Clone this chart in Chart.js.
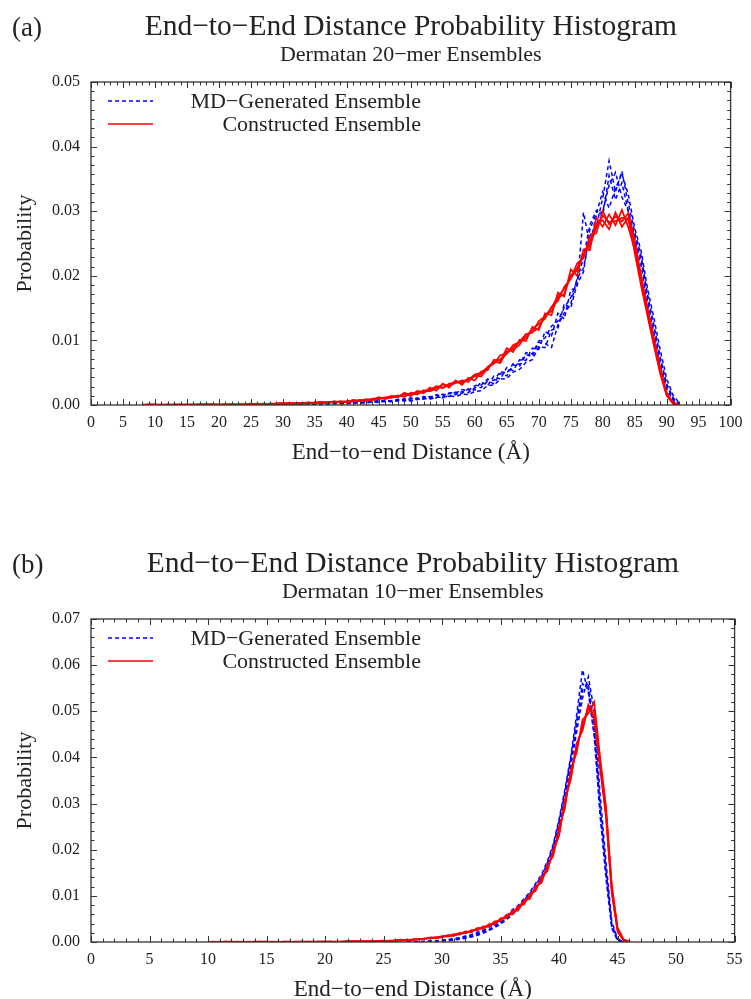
<!DOCTYPE html>
<html><head><meta charset="utf-8">
<script src="https://cdn.jsdelivr.net/npm/chart.js@4.4.0/dist/chart.umd.min.js"></script>
<style>
html,body{margin:0;padding:0;background:#fff;overflow:hidden;width:751px;height:999px;}
canvas{position:absolute;left:0;}
#cA{top:0}
#cB{top:537px}
</style></head><body>
<canvas id="cA" width="751" height="500"></canvas>
<canvas id="cB" width="751" height="500"></canvas>
<script>
// ---------- Panel (a): Dermatan 20-mer ----------
const distA = [8,9,10,11,12,13,14,15,16,17,18,19,20,21,22,23,24,25,26,27,28,29,30,31,32,33,34,35,36,37,38,39,40,41,42,43,44,45,46,47,48,49,50,51,52,53,54,55,56,57,58,59,60,61,62,63,64,65,66,67,68,69,70,71,72,73,74,75,76,77,78,79,80,81,82,83,84,85,86,87,88,89,90,91,92];
const conA1 = [0.0000,0.0000,0.0000,0.0000,0.0001,0.0000,0.0000,0.0001,0.0000,0.0001,
  0.0001,0.0000,0.0001,0.0001,0.0001,0.0000,0.0001,0.0001,0.0001,0.0002,
  0.0001,0.0002,0.0002,0.0002,0.0003,0.0002,0.0003,0.0003,0.0004,0.0003,
  0.0005,0.0004,0.0006,0.0005,0.0008,0.0007,0.0009,0.0011,0.0010,0.0013,
  0.0012,0.0019,0.0015,0.0021,0.0018,0.0027,0.0022,0.0033,0.0027,0.0038,
  0.0031,0.0042,0.0038,0.0052,0.0054,0.0070,0.0068,0.0088,0.0082,0.0101,
  0.0099,0.0121,0.0116,0.0142,0.0139,0.0174,0.0168,0.0210,0.0200,0.0241,
  0.0240,0.0290,0.0276,0.0295,0.0278,0.0302,0.0275,0.0241,0.0192,0.0143,
  0.0097,0.0052,0.0016,0.0003,0.0000];
const conA2 = [0.0000,0.0001,0.0000,0.0001,0.0000,0.0001,0.0001,0.0000,0.0001,0.0000,
  0.0001,0.0001,0.0001,0.0000,0.0001,0.0001,0.0001,0.0002,0.0001,0.0001,
  0.0002,0.0002,0.0003,0.0002,0.0002,0.0003,0.0004,0.0003,0.0005,0.0004,
  0.0004,0.0006,0.0005,0.0007,0.0006,0.0009,0.0008,0.0010,0.0012,0.0011,
  0.0014,0.0013,0.0019,0.0018,0.0021,0.0024,0.0028,0.0026,0.0033,0.0034,
  0.0037,0.0039,0.0047,0.0050,0.0058,0.0064,0.0077,0.0080,0.0089,0.0098,
  0.0110,0.0112,0.0130,0.0137,0.0151,0.0168,0.0180,0.0196,0.0219,0.0228,
  0.0262,0.0266,0.0300,0.0280,0.0292,0.0284,0.0297,0.0255,0.0201,0.0150,
  0.0104,0.0057,0.0019,0.0004,0.0000];
const conA3 = [0.0001,0.0000,0.0001,0.0000,0.0000,0.0001,0.0000,0.0001,0.0001,0.0001,
  0.0000,0.0001,0.0000,0.0001,0.0001,0.0001,0.0000,0.0001,0.0002,0.0001,
  0.0002,0.0001,0.0002,0.0003,0.0002,0.0003,0.0002,0.0004,0.0003,0.0005,
  0.0004,0.0005,0.0004,0.0006,0.0007,0.0006,0.0010,0.0009,0.0011,0.0014,
  0.0013,0.0017,0.0014,0.0022,0.0020,0.0023,0.0029,0.0027,0.0031,0.0037,
  0.0034,0.0040,0.0044,0.0048,0.0059,0.0066,0.0071,0.0079,0.0093,0.0097,
  0.0104,0.0118,0.0125,0.0134,0.0152,0.0161,0.0183,0.0195,0.0212,0.0230,
  0.0253,0.0280,0.0286,0.0272,0.0298,0.0276,0.0290,0.0236,0.0185,0.0138,
  0.0092,0.0048,0.0014,0.0002,0.0000];
const conA4 = [0.0000,0.0001,0.0001,0.0000,0.0001,0.0000,0.0001,0.0000,0.0000,0.0001,
  0.0001,0.0001,0.0000,0.0001,0.0000,0.0001,0.0001,0.0002,0.0001,0.0002,
  0.0001,0.0002,0.0003,0.0002,0.0003,0.0003,0.0002,0.0004,0.0004,0.0003,
  0.0006,0.0004,0.0005,0.0008,0.0006,0.0008,0.0007,0.0012,0.0009,0.0012,
  0.0015,0.0013,0.0018,0.0016,0.0023,0.0021,0.0026,0.0032,0.0030,0.0034,
  0.0038,0.0036,0.0046,0.0044,0.0057,0.0067,0.0065,0.0083,0.0086,0.0093,
  0.0109,0.0113,0.0119,0.0140,0.0145,0.0166,0.0172,0.0201,0.0208,0.0233,
  0.0247,0.0275,0.0293,0.0283,0.0285,0.0290,0.0288,0.0248,0.0197,0.0147,
  0.0100,0.0055,0.0017,0.0003,0.0000];
const mdA1 = [null,null,null,null,null,null,null,null,null,null,null,null,null,null,null,null,null,null,null,null,
  0.0000,0.0001,0.0000,0.0001,0.0001,0.0002,0.0001,0.0002,0.0002,0.0003,
  0.0002,0.0003,0.0004,0.0003,0.0004,0.0005,0.0004,0.0006,0.0005,0.0007,
  0.0008,0.0006,0.0010,0.0008,0.0012,0.0010,0.0015,0.0011,0.0018,0.0016,
  0.0021,0.0019,0.0027,0.0027,0.0037,0.0033,0.0049,0.0045,0.0062,0.0060,
  0.0078,0.0075,0.0097,0.0095,0.0089,0.0124,0.0142,0.0156,0.0196,0.0212,
  0.0262,0.0276,0.0320,0.0378,0.0330,0.0362,0.0312,0.0268,0.0231,0.0172,
  0.0124,0.0074,0.0033,0.0011,0.0002];
const mdA2 = [null,null,null,null,null,null,null,null,null,null,null,null,null,null,null,null,null,null,null,null,
  0.0001,0.0000,0.0001,0.0001,0.0000,0.0001,0.0002,0.0001,0.0003,0.0002,
  0.0003,0.0002,0.0003,0.0004,0.0003,0.0004,0.0006,0.0005,0.0007,0.0006,
  0.0006,0.0010,0.0007,0.0011,0.0009,0.0013,0.0011,0.0017,0.0013,0.0020,
  0.0018,0.0025,0.0023,0.0036,0.0030,0.0045,0.0040,0.0058,0.0053,0.0070,
  0.0069,0.0088,0.0086,0.0114,0.0107,0.0142,0.0133,0.0178,0.0182,0.0298,
  0.0248,0.0293,0.0300,0.0340,0.0360,0.0322,0.0300,0.0259,0.0216,0.0158,
  0.0112,0.0063,0.0025,0.0007,0.0001];
const mdA3 = [null,null,null,null,null,null,null,null,null,null,null,null,null,null,null,null,null,null,null,null,
  0.0000,0.0000,0.0001,0.0000,0.0001,0.0001,0.0001,0.0002,0.0001,0.0002,
  0.0003,0.0002,0.0002,0.0003,0.0004,0.0003,0.0005,0.0004,0.0006,0.0005,
  0.0007,0.0008,0.0006,0.0009,0.0010,0.0009,0.0012,0.0012,0.0014,0.0013,
  0.0017,0.0016,0.0021,0.0022,0.0030,0.0031,0.0040,0.0041,0.0051,0.0055,
  0.0066,0.0070,0.0090,0.0089,0.0116,0.0119,0.0157,0.0150,0.0187,0.0206,
  0.0272,0.0296,0.0330,0.0305,0.0335,0.0358,0.0326,0.0274,0.0239,0.0181,
  0.0135,0.0085,0.0041,0.0015,0.0003];
const mdA4 = [null,null,null,null,null,null,null,null,null,null,null,null,null,null,null,null,null,null,null,null,
  0.0001,0.0000,0.0000,0.0001,0.0001,0.0001,0.0002,0.0001,0.0002,0.0002,
  0.0002,0.0004,0.0003,0.0004,0.0003,0.0005,0.0005,0.0007,0.0006,0.0006,
  0.0009,0.0007,0.0011,0.0009,0.0013,0.0012,0.0016,0.0014,0.0019,0.0018,
  0.0024,0.0022,0.0030,0.0031,0.0040,0.0038,0.0052,0.0049,0.0064,0.0063,
  0.0081,0.0079,0.0099,0.0104,0.0122,0.0130,0.0151,0.0166,0.0193,0.0228,
  0.0279,0.0301,0.0292,0.0355,0.0318,0.0344,0.0300,0.0262,0.0225,0.0165,
  0.0118,0.0070,0.0030,0.0009,0.0001];

// ---------- Panel (b): Dermatan 10-mer ----------
const distB = [10,10.5,11,11.5,12,12.5,13,13.5,14,14.5,15,15.5,16,16.5,17,17.5,18,18.5,19,19.5,
  20,20.5,21,21.5,22,22.5,23,23.5,24,24.5,25,25.5,26,26.5,27,27.5,28,28.5,29,29.5,
  30,30.5,31,31.5,32,32.5,33,33.5,34,34.5,35,35.5,36,36.5,37,37.5,38,38.5,39,39.5,
  40,40.5,41,41.5,42,42.5,43,43.5,44,44.5,45,45.5,46];
const conB1 = [0.0000,0.0000,0.0001,0.0000,0.0000,0.0001,0.0000,0.0000,0.0001,0.0000,
  0.0000,0.0001,0.0000,0.0001,0.0000,0.0001,0.0000,0.0001,0.0001,0.0000,
  0.0001,0.0001,0.0000,0.0001,0.0001,0.0001,0.0002,0.0001,0.0001,0.0002,
  0.0002,0.0003,0.0002,0.0004,0.0005,0.0004,0.0006,0.0007,0.0009,0.0008,
  0.0011,0.0014,0.0013,0.0020,0.0019,0.0026,0.0025,0.0034,0.0033,0.0045,
  0.0045,0.0059,0.0060,0.0078,0.0081,0.0104,0.0111,0.0141,0.0153,0.0201,
  0.0231,0.0309,0.0352,0.0430,0.0458,0.0511,0.0485,0.0390,0.0280,0.0112,
  0.0026,0.0004,0.0000];
const conB2 = [0.0001,0.0000,0.0000,0.0001,0.0000,0.0000,0.0001,0.0000,0.0000,0.0001,
  0.0001,0.0000,0.0001,0.0000,0.0001,0.0000,0.0001,0.0001,0.0000,0.0001,
  0.0001,0.0000,0.0001,0.0001,0.0002,0.0001,0.0001,0.0002,0.0002,0.0001,
  0.0003,0.0002,0.0004,0.0003,0.0004,0.0006,0.0005,0.0008,0.0008,0.0010,
  0.0012,0.0012,0.0017,0.0016,0.0023,0.0021,0.0030,0.0028,0.0039,0.0038,
  0.0052,0.0051,0.0068,0.0068,0.0091,0.0093,0.0122,0.0128,0.0167,0.0186,
  0.0250,0.0289,0.0375,0.0410,0.0482,0.0495,0.0520,0.0402,0.0296,0.0125,
  0.0031,0.0006,0.0001];
const conB3 = [0.0000,0.0001,0.0000,0.0000,0.0001,0.0000,0.0000,0.0001,0.0000,0.0000,
  0.0001,0.0000,0.0000,0.0001,0.0001,0.0000,0.0001,0.0000,0.0001,0.0001,
  0.0000,0.0001,0.0001,0.0000,0.0001,0.0002,0.0001,0.0001,0.0002,0.0002,
  0.0002,0.0002,0.0003,0.0004,0.0004,0.0005,0.0007,0.0006,0.0010,0.0009,
  0.0012,0.0012,0.0015,0.0018,0.0019,0.0024,0.0028,0.0031,0.0036,0.0041,
  0.0049,0.0055,0.0064,0.0073,0.0086,0.0099,0.0116,0.0135,0.0161,0.0194,
  0.0232,0.0308,0.0356,0.0429,0.0462,0.0514,0.0486,0.0376,0.0273,0.0106,
  0.0022,0.0003,0.0000];
const conB4 = [0.0000,0.0000,0.0000,0.0001,0.0001,0.0000,0.0000,0.0000,0.0001,0.0001,
  0.0000,0.0000,0.0001,0.0000,0.0000,0.0001,0.0001,0.0000,0.0000,0.0001,
  0.0001,0.0001,0.0000,0.0001,0.0002,0.0001,0.0002,0.0001,0.0002,0.0002,
  0.0003,0.0002,0.0003,0.0005,0.0003,0.0005,0.0006,0.0007,0.0009,0.0010,
  0.0010,0.0015,0.0014,0.0018,0.0022,0.0022,0.0029,0.0031,0.0035,0.0044,
  0.0046,0.0057,0.0063,0.0072,0.0088,0.0096,0.0118,0.0134,0.0160,0.0196,
  0.0240,0.0300,0.0366,0.0420,0.0470,0.0505,0.0500,0.0392,0.0288,0.0118,
  0.0028,0.0005,0.0000];
const mdB1 = [null,null,null,null,null,null,null,null,null,null,null,null,null,null,null,null,null,
  null,null,null,null,null,null,null,null,null,null,null,null,null,null,null,null,null,
  0.0000,0.0001,0.0000,0.0001,0.0001,0.0002,
  0.0003,0.0005,0.0005,0.0009,0.0009,0.0015,0.0016,0.0024,0.0026,0.0037,
  0.0041,0.0055,0.0061,0.0077,0.0085,0.0105,0.0118,0.0142,0.0165,0.0208,
  0.0258,0.0318,0.0394,0.0468,0.0545,0.0562,0.0470,0.0296,0.0158,0.0038,
  0.0005,0.0000,null];
const mdB2 = [null,null,null,null,null,null,null,null,null,null,null,null,null,null,null,null,null,
  null,null,null,null,null,null,null,null,null,null,null,null,null,null,null,null,null,
  0.0001,0.0000,0.0001,0.0001,0.0002,0.0002,
  0.0004,0.0005,0.0008,0.0009,0.0013,0.0016,0.0021,0.0025,0.0032,0.0039,
  0.0048,0.0056,0.0070,0.0079,0.0094,0.0108,0.0127,0.0146,0.0175,0.0212,
  0.0266,0.0331,0.0402,0.0492,0.0590,0.0541,0.0445,0.0275,0.0140,0.0030,
  0.0003,0.0000,null];
const mdB3 = [null,null,null,null,null,null,null,null,null,null,null,null,null,null,null,null,null,
  null,null,null,null,null,null,null,null,null,null,null,null,null,null,null,null,null,
  0.0000,0.0000,0.0001,0.0000,0.0001,0.0001,
  0.0002,0.0003,0.0004,0.0006,0.0008,0.0011,0.0014,0.0019,0.0025,0.0031,
  0.0039,0.0048,0.0059,0.0071,0.0085,0.0099,0.0117,0.0136,0.0163,0.0198,
  0.0249,0.0310,0.0380,0.0455,0.0528,0.0575,0.0502,0.0322,0.0176,0.0045,
  0.0007,0.0001,null];
const mdB4 = [null,null,null,null,null,null,null,null,null,null,null,null,null,null,null,null,null,
  null,null,null,null,null,null,null,null,null,null,null,null,null,null,null,null,null,
  0.0001,0.0001,0.0000,0.0001,0.0002,0.0001,
  0.0003,0.0004,0.0005,0.0007,0.0011,0.0012,0.0018,0.0020,0.0027,0.0033,
  0.0044,0.0050,0.0066,0.0072,0.0092,0.0102,0.0125,0.0141,0.0172,0.0206,
  0.0262,0.0325,0.0398,0.0480,0.0560,0.0548,0.0458,0.0290,0.0150,0.0034,
  0.0004,0.0000,null];

const legendLabels = ['MD\u2212Generated Ensemble', 'Constructed Ensemble'];
const titleText = 'End\u2212to\u2212End Distance Probability Histogram';
const xTitleText = 'End\u2212to\u2212end Distance (\u00C5)';

// ---------- rendering ----------
const SERIF = "'Liberation Serif', 'DejaVu Serif', serif";
const TXT = '#222';
Chart.defaults.font.family = SERIF;
Chart.defaults.color = TXT;

const frameTicks = {
  id: 'frameTicks',
  afterDatasetsDraw(chart, args, o) {
    const {ctx, chartArea: a, scales: {x, y}} = chart;
    ctx.save();
    ctx.strokeStyle = '#333';
    ctx.lineWidth = 1;
    const run = (scale, step, major, horiz) => {
      const n = Math.round((scale.max - scale.min) / step);
      for (let i = 0; i <= n; i++) {
        const v = scale.min + i * step;
        const r = v / major;
        const isMajor = Math.abs(r - Math.round(r)) < 1e-6;
        const len = isMajor ? 6 : 3.5;
        const p = Math.round(scale.getPixelForValue(v)) + 0.5;
        ctx.beginPath();
        if (horiz) {
          ctx.moveTo(p, a.bottom); ctx.lineTo(p, a.bottom - len);
          ctx.moveTo(p, a.top); ctx.lineTo(p, a.top + len);
        } else {
          ctx.moveTo(a.left, p); ctx.lineTo(a.left + len, p);
          ctx.moveTo(a.right, p); ctx.lineTo(a.right - len, p);
        }
        ctx.stroke();
      }
    };
    run(x, o.minorX, o.majorX, true);
    run(y, o.minorY, o.majorY, false);
    ctx.lineWidth = 1.3;
    ctx.strokeRect(a.left, a.top, a.right - a.left, a.bottom - a.top);
    ctx.restore();
  }
};

const insetLegend = {
  id: 'insetLegend',
  afterDraw(chart, args, o) {
    const {ctx, chartArea: a} = chart;
    ctx.save();
    ctx.font = '22px ' + SERIF;
    ctx.fillStyle = TXT;
    ctx.textAlign = 'right';
    ctx.textBaseline = 'alphabetic';
    o.items.forEach((idx, k) => {
      const ds = chart.data.datasets[idx];
      const ly = a.top + 19 + k * 23;
      ctx.beginPath();
      ctx.strokeStyle = ds.borderColor;
      ctx.lineWidth = ds.borderWidth;
      ctx.setLineDash(ds.borderDash || []);
      ctx.moveTo(a.left + 17, ly); ctx.lineTo(a.left + 62, ly);
      ctx.stroke();
      ctx.setLineDash([]);
      ctx.fillText(ds.label, a.left + 330, ly + 6.8);
    });
    ctx.textAlign = 'left';
    ctx.font = '27px ' + SERIF;
    ctx.fillText(o.panel, 12, 36);
    ctx.restore();
  }
};

function pts(xs, ys) { return xs.map((xv, i) => ({x: xv, y: ys[i]})); }

function makeChart(id, xs, cons, mds, xMax, yMax, subtitle, padRight) {
  const datasets = [];
  cons.forEach(s => datasets.push({label: legendLabels[1], data: pts(xs, s), borderColor: '#ff0000', borderWidth: 1.7, pointRadius: 0, tension: 0, spanGaps: false}));
  mds.forEach(s => datasets.push({label: legendLabels[0], data: pts(xs, s), borderColor: '#0000ff', borderWidth: 1.5, borderDash: [4, 3], pointRadius: 0, tension: 0, spanGaps: false}));
  return new Chart(document.getElementById(id), {
    type: 'line',
    data: {datasets},
    plugins: [frameTicks, insetLegend],
    options: {
      responsive: false, animation: false, devicePixelRatio: 1,
      layout: {padding: {left: 0, right: padRight, top: 0, bottom: 33.2}},
      plugins: {
        legend: {display: false}, tooltip: {enabled: false},
        title: {display: true, text: titleText, fullSize: false, color: TXT,
          font: {size: 29.5, weight: 'normal', lineHeight: 1.0}, padding: {top: 12.25, bottom: 0}},
        subtitle: {display: true, text: subtitle, fullSize: false, color: TXT,
          font: {size: 22, weight: 'normal', lineHeight: 1.0}, padding: {top: 2.85, bottom: 15.4}},
        frameTicks: {minorX: 1, majorX: 5, minorY: yMax / 35, majorY: 0.01},
        insetLegend: {items: [cons.length, 0], panel: id === 'cA' ? '(a)' : '(b)'}
      },
      scales: {
        x: {type: 'linear', min: 0, max: xMax,
          grid: {display: false, drawTicks: false}, border: {display: false},
          ticks: {stepSize: 5, autoSkip: false, maxRotation: 0, padding: 8.4, color: TXT, font: {size: 16}},
          title: {display: true, text: xTitleText, color: TXT, font: {size: 23, lineHeight: 1.2}, padding: {top: 0, bottom: 0}},
          afterFit: s => { s.height = 61.8; }
        },
        y: {type: 'linear', min: 0, max: yMax,
          grid: {display: false, drawTicks: false}, border: {display: false},
          ticks: {stepSize: 0.01, padding: 11, color: TXT, font: {size: 16}, callback: v => v.toFixed(2)},
          title: {display: true, text: 'Probability', color: TXT, font: {size: 22, lineHeight: 1.2}, padding: {top: 11.8, bottom: 0}},
          afterFit: s => { s.width = 91; }
        }
      }
    }
  });
}

makeChart('cA', distA, [conA1, conA2, conA3, conA4], [mdA1, mdA2, mdA3, mdA4], 100, 0.05, 'Dermatan 20\u2212mer Ensembles', 13);
makeChart('cB', distB, [conB1, conB2, conB3, conB4], [mdB1, mdB2, mdB3, mdB4], 55, 0.07, 'Dermatan 10\u2212mer Ensembles', 14);
</script>
</body></html>
